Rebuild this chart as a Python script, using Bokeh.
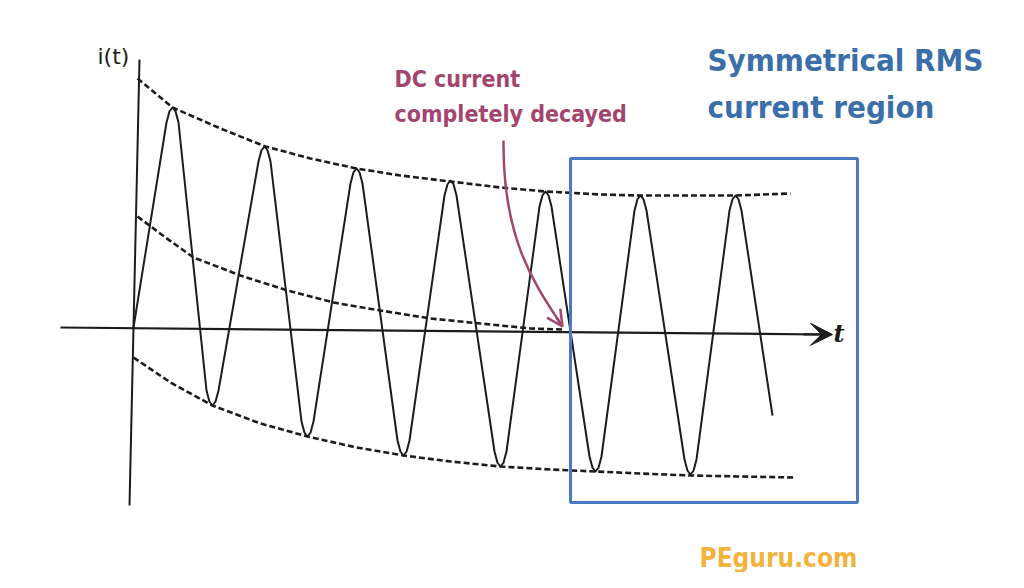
from bokeh.plotting import figure
from bokeh.models import Range1d, Arrow, VeeHead, OpenHead, Label
from bokeh.embed import file_html
from bokeh.resources import INLINE

# ---- data (time units / current units, origin at axis crossing) ----
extreme_t = [0, 39, 79, 131, 174, 223, 270, 317, 367, 412, 462, 507, 557, 602, 639]
extreme_i = [0, 220, -78, 181, -109, 159, -128, 147, -139, 136, -144, 132, -147, 132, -88]

upper_t = [4, 39, 87, 132, 177, 223, 267, 317, 367, 412, 467, 507, 567, 602, 657]
upper_i = [249, 220, 199, 181, 169, 159, 152, 146, 140, 136, 133, 132, 132, 132, 134]

lower_t = [0, 37, 79, 127, 174, 223, 270, 317, 367, 417, 462, 507, 557, 607, 662]
lower_i = [-30, -55, -78, -96, -109, -120, -128, -134, -139, -142, -144, -146, -148, -149, -150]

dc_t = [4, 32, 60, 107, 154, 200, 247, 297, 347, 397, 429]
dc_i = [111, 90, 70, 52, 37, 25, 17, 9, 4, -1, -2]

# ---- build waveform path with rounded caps at extremes ----
wx, wy = [], []
cap_w, cap_h = 6.0, 15.0
for k, (t, v) in enumerate(zip(extreme_t, extreme_i)):
    if k == 0 or k == len(extreme_t) - 1:
        wx.append(t); wy.append(v)
        continue
    s = 1 if v > extreme_i[k - 1] else -1
    for dx, dh in [(-cap_w, cap_h), (-cap_w / 2, cap_h / 4), (0, 0), (cap_w / 2, cap_h / 4), (cap_w, cap_h)]:
        wx.append(t + dx); wy.append(v - s * dh)

p = figure(width=1008, height=572, x_range=Range1d(-133, 875), y_range=Range1d(-245, 327),
           output_backend="svg", toolbar_location=None, min_border=0,
           x_axis_location=None, y_axis_location=None)
p.grid.visible = False
p.outline_line_color = None
p.background_fill_color = "white"
p.border_fill_color = "white"

ink = "#1c1c1c"
# axes
p.line([6, -4], [268, -178], line_color=ink, line_width=2)
p.line([-73, 689], [0, -7], line_color=ink, line_width=2.2)
p.add_layout(Arrow(end=VeeHead(size=22, fill_color=ink, line_color=ink),
                   x_start=670, y_start=-6.8, x_end=699, y_end=-7,
                   line_color=ink, line_width=2.2))

# envelopes
for xs, ys in [(upper_t, upper_i), (lower_t, lower_i), (dc_t, dc_i)]:
    p.line(xs, ys, line_color=ink, line_width=2.6, line_dash="6 3")

# waveform
p.line(wx, wy, line_color=ink, line_width=2, line_join="round")

# symmetric region box
p.quad(left=[437], right=[724], top=[169], bottom=[-175], fill_color=None,
       line_color="#4a7bc1", line_width=3)

# annotation arrow
maroon = "#a3466f"
p.bezier(x0=[370], y0=[187], x1=[429], y1=[1], cx0=[369], cy0=[87], cx1=[402], cy1=[42],
         line_color=maroon, line_width=2.5)
p.add_layout(Arrow(end=OpenHead(size=16, line_color=maroon, line_width=2.5),
                   x_start=423, y_start=10, x_end=429, y_end=1,
                   line_color=maroon, line_width=2.5))

cond = "'DejaVu Sans Condensed', 'Liberation Sans Narrow', 'Roboto'"
labels = [
    Label(x=-36, y=271, text="i(t)", text_font="DejaVu Sans", text_font_size="22px",
          text_color=ink, text_baseline="alphabetic"),
    Label(x=700, y=-6, text="t", text_font="DejaVu Serif", text_font_size="24px",
          text_font_style="bold italic", text_color=ink, text_baseline="alphabetic"),
    Label(x=574, y=268, text="Symmetrical RMS", text_font=cond, text_font_size="31px",
          text_font_style="bold", text_color="#3b6fa9", text_baseline="alphabetic"),
    Label(x=574, y=221, text="current region", text_font=cond, text_font_size="31px",
          text_font_style="bold", text_color="#3b6fa9", text_baseline="alphabetic"),
    Label(x=261, y=249, text="DC current", text_font=cond, text_font_size="23px",
          text_font_style="bold", text_color=maroon, text_baseline="alphabetic"),
    Label(x=261, y=214, text="completely decayed", text_font=cond, text_font_size="23px",
          text_font_style="bold", text_color=maroon, text_baseline="alphabetic"),
    Label(x=566, y=-230, text="PEguru.com", text_font=cond, text_font_size="26px",
          text_font_style="bold", text_color="#f2b33d", text_baseline="alphabetic"),
]
for lb in labels:
    p.add_layout(lb)

open("out.html", "w").write(file_html(p, INLINE))
